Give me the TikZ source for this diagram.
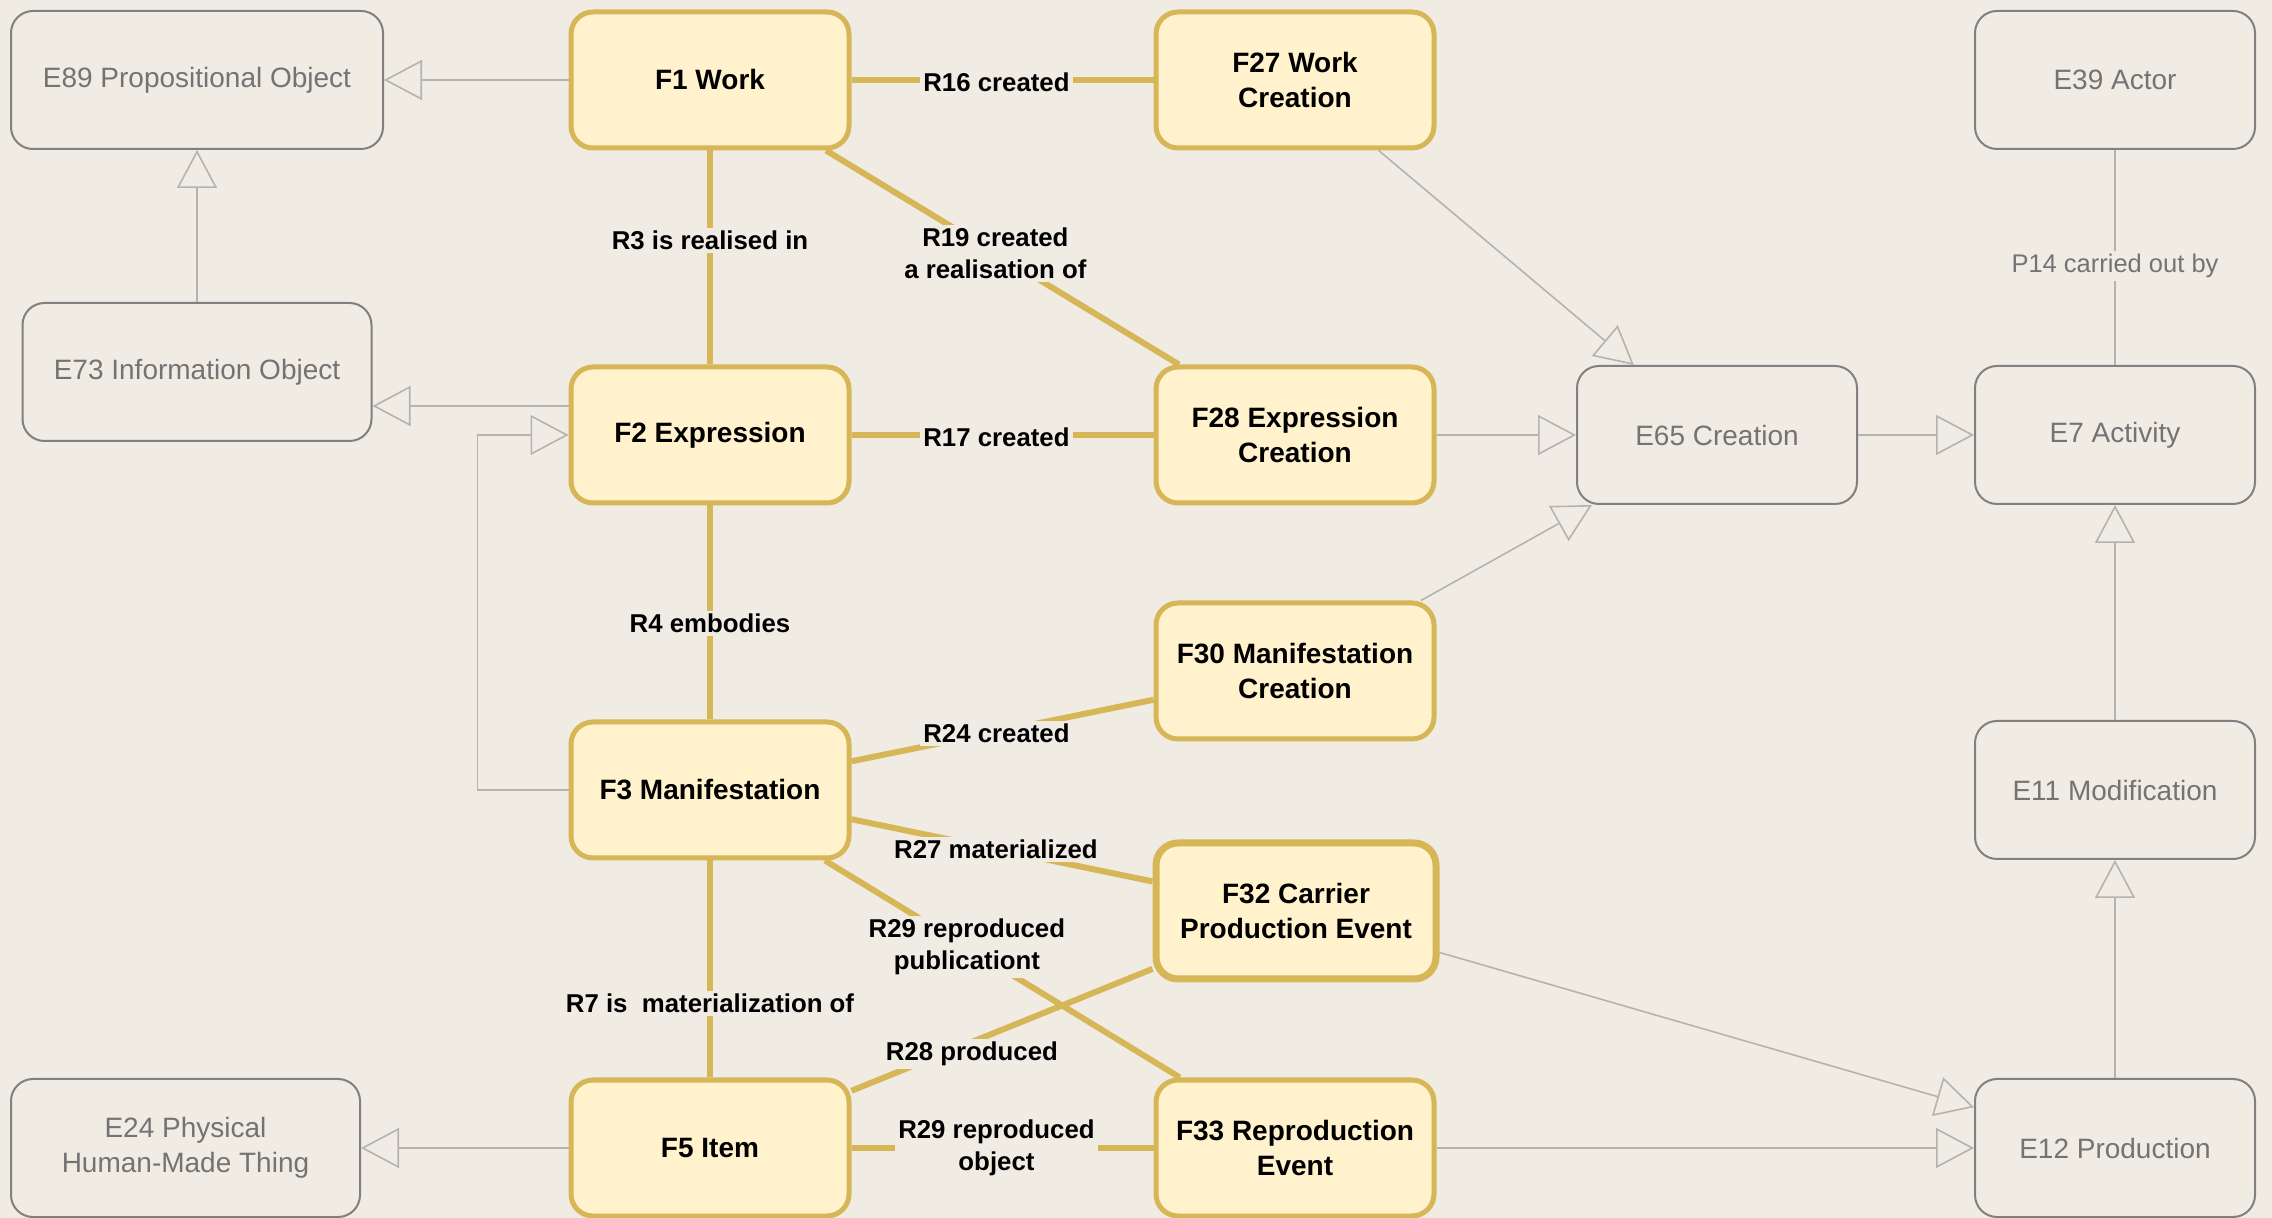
\documentclass[tikz,border=0pt]{standalone}
\usepackage{fontspec}
\setmainfont{Liberation Sans}
\usetikzlibrary{arrows.meta}
\definecolor{bg}{HTML}{F0ECE4}
\definecolor{ffill}{HTML}{FFF2CC}
\definecolor{fline}{HTML}{D6B656}
\definecolor{eline}{HTML}{808080}
\definecolor{etext}{HTML}{737373}
\definecolor{aline}{HTML}{B3B3B3}
\begin{document}
\begin{tikzpicture}[x=0.5pt,y=-0.5pt,
 fbox/.style={draw=fline, fill=ffill, line width=2.5pt, rounded corners=11pt, minimum width=139pt, minimum height=68pt, align=center, font=\fontsize{14}{17.5}\selectfont\bfseries, inner sep=0pt, text=black},
 ebox/.style={draw=eline, fill=bg, line width=1pt, rounded corners=11pt, minimum width=140pt, minimum height=69pt, align=center, font=\fontsize{14}{17.5}\selectfont, text=etext, inner sep=0pt},
 gold/.style={draw=fline, line width=3pt},
 garrow/.style={draw=aline, line width=0.8pt, -{Triangle[open, length=19pt, width=20pt]}},
 gline/.style={draw=aline, line width=0.8pt},
 rlab/.style={fill=bg, inner sep=1.5pt, align=center, font=\fontsize{12.9}{16}\selectfont\bfseries, text=black},
 plab/.style={fill=bg, inner sep=1.5pt, align=center, font=\fontsize{12.75}{16}\selectfont, text=etext},
]
\useasboundingbox (0,0) rectangle (2272,1218);
\fill[bg] (0,0) rectangle (2272,1218);

\node[ebox, minimum width=186pt] (E89) at (197,80) {E89 Propositional Object};
\node[fbox] (F1) at (710,80) {F1 Work};
\node[fbox] (F27) at (1295,80) {F27 Work\\Creation};
\node[ebox] (E39) at (2115,80) {E39 Actor};
\node[ebox, minimum width=174.5pt] (E73) at (197,372) {E73 Information Object};
\node[fbox] (F2) at (710,435) {F2 Expression};
\node[fbox] (F28) at (1295,435) {F28 Expression\\Creation};
\node[ebox] (E65) at (1717,435) {E65 Creation};
\node[ebox] (E7) at (2115,435) {E7 Activity};
\node[fbox] (F30) at (1295,671) {F30 Manifestation\\Creation};
\node[fbox] (F3) at (710,790) {F3 Manifestation};
\node[ebox] (E11) at (2115,790) {E11 Modification};
\node[fbox, line width=3.5pt, minimum width=140pt] (F32) at (1296,911) {F32 Carrier\\Production Event};
\node[ebox, minimum width=174.5pt] (E24) at (185.5,1148) {E24 Physical\\Human-Made Thing};
\node[fbox] (F5) at (710,1148) {F5 Item};
\node[fbox] (F33) at (1295,1148) {F33 Reproduction\\Event};
\node[ebox] (E12) at (2115,1148) {E12 Production};

\draw[gold] (F1) -- node[rlab, pos=0.48, yshift=-1pt]{R16 created} (F27);
\draw[gold] (F1) -- node[rlab, pos=0.42]{R3 is realised in} (F2);
\draw[gold] (F1) -- node[rlab, pos=0.48]{R19 created\\a realisation of} (F28);
\draw[gold] (F2) -- node[rlab, pos=0.48, yshift=-1pt]{R17 created} (F28);
\draw[gold] (F2) -- node[rlab, pos=0.55]{R4 embodies} (F3);
\draw[gold] (F3) -- node[rlab, pos=0.48, yshift=-1pt]{R24 created} (F30);
\draw[gold] (F3) -- node[rlab, pos=0.48]{R27 materialized} (F32);
\draw[gold] (F3) -- node[rlab, pos=0.4]{R29 reproduced\\publicationt} (F33);
\draw[gold] (F3) -- node[rlab, pos=0.66]{R7 is\ \ materialization of} (F5);
\draw[gold] (F5) -- node[rlab, pos=0.4, yshift=-6pt]{R28 produced} (F32);
\draw[gold] (F5) -- node[rlab, pos=0.48]{R29 reproduced\\object} (F33);

\draw[garrow] (F1) -- (E89);
\draw[garrow] (E73) -- (E89);
\draw[garrow] ([yshift=14.5pt]F2.west) coordinate (a) -- (a -| E73.east);
\draw[garrow] (F3.west) -- ++(-91,0) |- (F2.west);
\draw[garrow] (F5) -- (E24);
\draw[garrow] (F27) -- (E65);
\draw[garrow] (F28) -- (E65);
\draw[garrow] (F30) -- (E65);
\draw[garrow] (E65) -- (E7);
\draw[gline] (E39) -- node[plab, pos=0.54]{P14 carried out by} (E7);
\draw[garrow] (E11) -- (E7);
\draw[garrow] (E12) -- (E11);
\draw[garrow] (F32) -- (E12);
\draw[garrow] (F33) -- (E12);
\end{tikzpicture}
\end{document}
